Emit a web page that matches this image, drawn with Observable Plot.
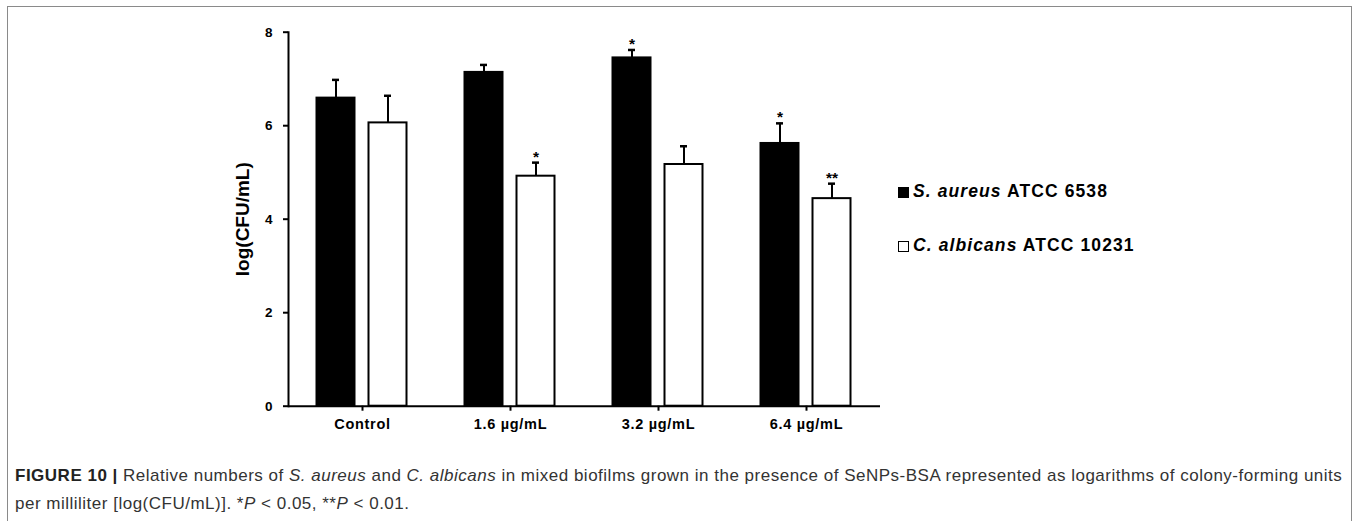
<!DOCTYPE html>
<html>
<head>
<meta charset="utf-8">
<script src="https://cdn.jsdelivr.net/npm/d3@7"></script>
<script src="https://cdn.jsdelivr.net/npm/@observablehq/plot@0.6"></script>
<style>
  html, body { margin: 0; padding: 0; background: #fff; }
  body { width: 1357px; height: 521px; position: relative; overflow: hidden; font-family: "Liberation Sans", Arial, sans-serif; }
  #box { position: absolute; left: 7px; top: 6px; width: 1345px; height: 530px; border: 1px solid #8a8a8a; box-sizing: border-box; }
  #chart { position: absolute; left: 0; top: 0; }
  #legend { position: absolute; left: 898px; top: 181px; font-weight: bold; font-size: 17.5px; letter-spacing: 1.1px; color: #000; }
  .item { position: absolute; left: 0; white-space: nowrap; line-height: 20px; display: flex; align-items: center; }
  .sw { display: inline-block; width: 11px; height: 11px; box-sizing: border-box; border: 1.5px solid #000; margin-right: 4px; margin-top: 2px; }
  #caption { position: absolute; left: 15px; top: 462px; font-size: 17px; letter-spacing: 0.5px; line-height: 28px; color: #333; white-space: nowrap; }
  #caption b { color: #222; }
  [aria-label="fx-axis tick label"] text { letter-spacing: 0.7px; }
</style>
</head>
<body>
<div id="box"></div>
<div id="chart"></div>
<div id="legend"></div>
<div id="caption"><b>FIGURE 10 |</b> Relative numbers of <i>S. aureus</i> and <i>C. albicans</i> in mixed biofilms grown in the presence of SeNPs-BSA represented as logarithms of colony-forming units<br>per milliliter [log(CFU/mL)]. *<i>P</i> &lt; 0.05, **<i>P</i> &lt; 0.01.</div>
<script>
// ---- data ----
const categories = ["Control", "1.6 µg/mL", "3.2 µg/mL", "6.4 µg/mL"];
const seriesKeys = ["S. aureus", "C. albicans"];
const seriesStrain = ["ATCC 6538", "ATCC 10231"];
const seriesColors = ["#000000", "#ffffff"];
const aureusMean = [6.59, 7.14, 7.45, 5.62];
const aureusErr = [0.39, 0.16, 0.17, 0.43];
const albicansMean = [6.06, 4.92, 5.17, 4.44];
const albicansErr = [0.58, 0.29, 0.39, 0.32];
const aureusSig = ["", "", "*", "*"];
const albicansSig = ["", "*", "", "**"];
const yTicks = [0, 2, 4, 6, 8];
const yLabel = "log(CFU/mL)";

const data = [];
categories.forEach((c, i) => {
  data.push({category: c, series: seriesKeys[0], value: aureusMean[i], upper: aureusMean[i] + aureusErr[i], sig: aureusSig[i]});
  data.push({category: c, series: seriesKeys[1], value: albicansMean[i], upper: albicansMean[i] + albicansErr[i], sig: albicansSig[i]});
});

const chart = Plot.plot({
  width: 1357,
  height: 440,
  marginLeft: 287.5,
  marginRight: 476.5,
  marginTop: 31.7,
  marginBottom: 34.3,
  style: {fontFamily: "'Liberation Sans', Arial, sans-serif", fontWeight: "bold", color: "#000", background: "transparent", overflow: "visible"},
  fx: {domain: categories, padding: 0, label: null},
  x: {domain: seriesKeys, paddingInner: 0.26, paddingOuter: 0.55, axis: null},
  y: {domain: [0, 8], label: null},
  color: {domain: seriesKeys, range: seriesColors},
  marks: [
    Plot.barY(data, {fx: "category", x: "series", y: "value", fill: "series", stroke: "#000", strokeWidth: 2}),
    Plot.ruleX(data, {fx: "category", x: "series", y1: "value", y2: "upper", stroke: "#000", strokeWidth: 2}),
    Plot.tickY(data, {fx: "category", x: "series", y: "upper", stroke: "#000", strokeWidth: 2.5, inset: 15.5}),
    Plot.text(data, {fx: "category", x: "series", y: "upper", text: "sig", lineAnchor: "bottom", dy: -1, fontSize: 15.5, fontWeight: "bold", fill: "#000"}),
    Plot.ruleY([0], {stroke: "#000", strokeWidth: 2}),
    Plot.frame({anchor: "left", facetAnchor: "left", stroke: "#000", strokeWidth: 2}),
    Plot.axisY({ticks: yTicks, tickSize: 5, tickPadding: 11, fontSize: 13.5, fontWeight: "bold", label: null, strokeWidth: 2}),
    Plot.axisFx({anchor: "bottom", tickSize: 5, tickPadding: 8, fontSize: 14.5, fontWeight: "bold", label: null, strokeWidth: 2}),
    Plot.text([{fx: categories[0]}], {fx: "fx", text: () => yLabel, frameAnchor: "left", textAnchor: "middle", lineAnchor: "middle", rotate: -90, dx: -46, fontSize: 19, fontWeight: "bold", fill: "#000"})
  ]
});
document.getElementById("chart").appendChild(chart);

// ---- legend ----
const legend = document.getElementById("legend");
seriesKeys.forEach((k, i) => {
  const it = document.createElement("div");
  it.className = "item";
  it.style.top = (i * 54) + "px";
  const sw = document.createElement("span");
  sw.className = "sw";
  sw.style.background = seriesColors[i];
  it.appendChild(sw);
  const t = document.createElement("span");
  t.innerHTML = "<i>" + k + "</i> " + seriesStrain[i];
  it.appendChild(t);
  legend.appendChild(it);
});
</script>
</body>
</html>
